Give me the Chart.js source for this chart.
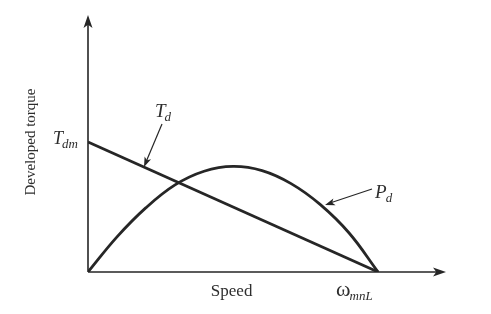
<!DOCTYPE html>
<html>
<head>
<meta charset="utf-8">
<script src="https://cdn.jsdelivr.net/npm/chart.js@4"></script>
<style>
  html, body { margin: 0; padding: 0; background: #fff; }
  #wrap { width: 491px; height: 314px; }
</style>
</head>
<body>
<div id="wrap"><canvas id="chart"></canvas></div>
<script>
// speed as a fraction of the no-load speed, torque/power as a fraction of T_dm
const torqueSpeed = [0, 1]
const torqueValues = [1, 0]
const powerSpeed = [0, 0.1, 0.2, 0.3, 0.4, 0.5, 0.6, 0.7, 0.8, 0.9, 1]
const powerValues = [0, 0.27, 0.495, 0.67, 0.775, 0.812, 0.78, 0.68, 0.52, 0.3, 0]

const ink = '#262626'
const serif = '"Liberation Serif", "DejaVu Serif", serif'

function toPoints(xs, ys) {
  return xs.map((x, i) => ({ x: x, y: ys[i] }))
}

function arrowHead(ctx, x, y, angle, len, half) {
  ctx.save()
  ctx.translate(x, y)
  ctx.rotate(angle)
  ctx.beginPath()
  ctx.moveTo(0, 0)
  ctx.lineTo(-len, -half)
  ctx.lineTo(-len * 0.75, 0)
  ctx.lineTo(-len, half)
  ctx.closePath()
  ctx.fill()
  ctx.restore()
}

// text with an italic subscript, left aligned at x
function subText(ctx, main, sub, x, y, size, italicMain, subSize) {
  ctx.font = (italicMain ? 'italic ' : '') + size + 'px ' + serif
  ctx.textAlign = 'left'
  ctx.textBaseline = 'alphabetic'
  ctx.fillText(main, x, y)
  const w = ctx.measureText(main).width
  ctx.font = 'italic ' + (subSize || Math.round(size * 0.7)) + 'px ' + serif
  ctx.fillText(sub, x + w - 1, y + 4)
}

const decor = {
  id: 'decor',
  afterDatasetsDraw(chart) {
    const ctx = chart.ctx
    const xs = chart.scales.x
    const ys = chart.scales.y
    const x0 = xs.getPixelForValue(0)
    const y0 = ys.getPixelForValue(0)
    const top = chart.chartArea.top
    const right = chart.chartArea.right

    ctx.save()
    ctx.strokeStyle = ink
    ctx.fillStyle = ink

    // axes
    ctx.lineWidth = 1.6
    ctx.beginPath()
    ctx.moveTo(x0, y0)
    ctx.lineTo(x0, top + 6)
    ctx.moveTo(x0, y0)
    ctx.lineTo(right - 6, y0)
    ctx.stroke()
    arrowHead(ctx, x0, top, -Math.PI / 2, 13, 4.5)
    arrowHead(ctx, right, y0, 0, 13, 4.5)

    // pointer arrows
    ctx.lineWidth = 1.2
    const tdTip = { x: xs.getPixelForValue(0.193), y: ys.getPixelForValue(0.807) }
    const tdTail = { x: tdTip.x + 18, y: tdTip.y - 43 }
    ctx.beginPath()
    ctx.moveTo(tdTail.x, tdTail.y)
    ctx.lineTo(tdTip.x + 2, tdTip.y - 5)
    ctx.stroke()
    arrowHead(ctx, tdTip.x, tdTip.y, Math.atan2(tdTip.y - tdTail.y, tdTip.x - tdTail.x), 10, 3.5)

    const pdTip = { x: xs.getPixelForValue(0.817), y: ys.getPixelForValue(0.515) }
    const pdTail = { x: pdTip.x + 47, y: pdTip.y - 16 }
    ctx.beginPath()
    ctx.moveTo(pdTail.x, pdTail.y)
    ctx.lineTo(pdTip.x + 5, pdTip.y - 2)
    ctx.stroke()
    arrowHead(ctx, pdTip.x, pdTip.y, Math.atan2(pdTip.y - pdTail.y, pdTip.x - pdTail.x), 10, 3.5)

    // labels
    ctx.fillStyle = '#2e2e2e'
    subText(ctx, 'T', 'dm', x0 - 35, ys.getPixelForValue(1) + 2, 18, true)
    subText(ctx, 'T', 'd', tdTail.x - 7, tdTail.y - 7, 19, true, 13)
    subText(ctx, 'P', 'd', pdTail.x + 3, pdTail.y + 9, 19, true, 13)
    subText(ctx, 'ω', 'mnL', xs.getPixelForValue(1) - 42, y0 + 24, 22, false, 13)

    ctx.font = '17px ' + serif
    ctx.textAlign = 'center'
    ctx.textBaseline = 'alphabetic'
    ctx.fillText('Speed', xs.getPixelForValue(0.495), y0 + 24)

    ctx.save()
    ctx.translate(35, ys.getPixelForValue(1.0))
    ctx.rotate(-Math.PI / 2)
    ctx.font = '15px ' + serif
    ctx.textAlign = 'center'
    ctx.fillText('Developed torque', 0, 0)
    ctx.restore()

    ctx.restore()
  }
}

new Chart(document.getElementById('chart'), {
  type: 'line',
  data: {
    datasets: [
      {
        label: 'Td',
        data: toPoints(torqueSpeed, torqueValues),
        borderColor: ink,
        borderWidth: 2.8,
        pointRadius: 0,
        tension: 0
      },
      {
        label: 'Pd',
        data: toPoints(powerSpeed, powerValues),
        borderColor: ink,
        borderWidth: 2.8,
        pointRadius: 0,
        tension: 0.4
      }
    ]
  },
  options: {
    responsive: true,
    maintainAspectRatio: false,
    animation: false,
    layout: { padding: { left: 88, right: 45, top: 15, bottom: 42 } },
    plugins: {
      legend: { display: false },
      tooltip: { enabled: false }
    },
    scales: {
      x: { type: 'linear', min: 0, max: 1.234, display: false },
      y: { type: 'linear', min: 0, max: 1.977, display: false }
    }
  },
  plugins: [decor]
})
</script>
</body>
</html>
